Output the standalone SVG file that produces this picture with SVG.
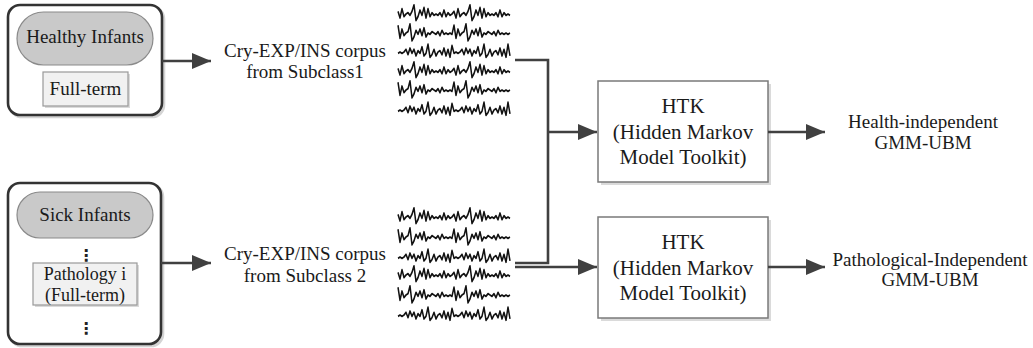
<svg xmlns="http://www.w3.org/2000/svg" width="1033" height="348" viewBox="0 0 1033 348">
<style>
.t{font-family:"Liberation Serif","Times New Roman",serif;fill:#1a1a1a;text-anchor:middle;font-size:19px}
.h{font-size:21px}
.p{font-size:18px}
.dots{font-family:"DejaVu Sans",sans-serif;fill:#222;text-anchor:middle;font-size:16px;font-weight:bold}
.outer{fill:#fff;stroke:#333;stroke-width:2.6}
.oshadow{fill:none;stroke:#d4d4d4;stroke-width:2.6}
.pill{fill:#c9c9c9;stroke:#8a8a8a;stroke-width:1.2}
.inner{fill:#f1f1f1;stroke:#999;stroke-width:1.2}
.box{fill:#fff;stroke:#7a7a7a;stroke-width:1.5}
.shadow{fill:#dadada}
.conn{fill:none;stroke:#404040;stroke-width:2.6}
.wave{fill:none;stroke:#111;stroke-width:1.5;stroke-linejoin:round}
</style>
<defs>
<marker id="arr" markerUnits="userSpaceOnUse" markerWidth="20" markerHeight="18" refX="19" refY="8" orient="auto">
<path d="M0,0 L19,8 L0,16 z" fill="#404040"/>
</marker>
<path id="wA" class="wave" d="M0,-2 L2,3 L4,-4 L6,2 L8,0 L10,-1 L12,1 L14,-2 L16,-7 L18,5 L20,2 L22,-3 L24,1 L26,-5 L28,3 L30,-4 L32,2 L34,-1 L36,1 L38,0 L40,1 L42,-1 L44,2 L46,-3 L48,2 L50,-1 L52,1 L54,0 L56,-2 L58,3 L60,-4 L62,2 L64,0 L66,-1 L68,1 L70,-2 L72,-7 L74,5 L76,2 L78,-3 L80,1 L82,-5 L84,3 L86,-4 L88,2 L90,-1 L92,1 L94,0 L96,1 L98,-1 L100,2 L102,-3 L104,2 L106,-1 L108,1 L110,0 L112,1"/>
<path id="wB" class="wave" d="M0,-6 L2,4 L4,-3 L6,2 L8,0 L10,-1 L12,-7 L14,6 L16,3 L18,-2 L20,1 L22,-3 L24,2 L26,-4 L28,3 L30,0 L32,1 L34,-1 L36,0 L38,1 L40,-1 L42,2 L44,-2 L46,1 L48,0 L50,1 L52,0 L54,1 L56,-6 L58,4 L60,-3 L62,2 L64,0 L66,-1 L68,-7 L70,6 L72,3 L74,-2 L76,1 L78,-3 L80,2 L82,-4 L84,3 L86,0 L88,1 L90,-1 L92,0 L94,1 L96,-1 L98,2 L100,-2 L102,1 L104,0 L106,1 L108,0 L110,1 L112,0"/>
<path id="wC" class="wave" d="M0,1 L2,0 L4,1 L6,0 L8,-2 L10,2 L12,-3 L14,1 L16,-2 L18,3 L20,-1 L22,1 L24,-4 L26,3 L28,1 L30,-6 L32,4 L34,2 L36,-2 L38,3 L40,0 L42,-1 L44,2 L46,-3 L48,3 L50,-2 L52,4 L54,-5 L56,1 L58,0 L60,1 L62,0 L64,-2 L66,2 L68,-3 L70,1 L72,-2 L74,3 L76,-1 L78,1 L80,-4 L82,3 L84,1 L86,-6 L88,4 L90,2 L92,-2 L94,3 L96,0 L98,-1 L100,2 L102,-3 L104,3 L106,-2 L108,4 L110,-6 L112,3"/>
</defs>
<rect width="1033" height="348" fill="#fff"/>

<g id="healthy">
<rect class="oshadow" x="10" y="7" width="154" height="110" rx="12"/>
<rect class="outer" x="8" y="5" width="154" height="110" rx="12"/>
<rect class="pill" x="17" y="12" width="136" height="53" rx="26.5"/>
<text class="t" x="85" y="43">Healthy Infants</text>
<rect class="shadow" x="45" y="74" width="85" height="34"/>
<rect class="inner" x="43" y="72" width="85" height="34"/>
<text class="t" x="85.5" y="95">Full-term</text>
</g>

<g id="sick">
<rect class="oshadow" x="10" y="185" width="153" height="161" rx="12"/>
<rect class="outer" x="8" y="183" width="153" height="161" rx="12"/>
<rect class="pill" x="17" y="192" width="136" height="46" rx="23"/>
<text class="t" x="85" y="221">Sick Infants</text>
<text class="dots" x="86" y="261">⋮</text>
<rect class="shadow" x="35" y="265" width="104" height="42"/>
<rect class="inner" x="33" y="263" width="104" height="42"/>
<text class="t p" x="85" y="280">Pathology i</text>
<text class="t p" x="85" y="301">(Full-term)</text>
<text class="dots" x="86" y="334">⋮</text>
</g>

<g id="corpus1">
<text class="t" x="305" y="57">Cry-EXP/INS corpus</text>
<text class="t" x="305" y="78">from Subclass1</text>
</g>
<g id="corpus2">
<text class="t" x="305" y="260">Cry-EXP/INS corpus</text>
<text class="t" x="305" y="282">from Subclass 2</text>
</g>

<g id="waves1">
<use href="#wA" transform="translate(398,14) scale(1,1.3)"/>
<use href="#wB" transform="translate(398,33) scale(1,1.3)"/>
<use href="#wC" transform="translate(398,52) scale(1,1.3)"/>
<use href="#wA" transform="translate(398,71) scale(1,1.3)"/>
<use href="#wB" transform="translate(398,90) scale(1,1.3)"/>
<use href="#wC" transform="translate(398,110) scale(1,1.3)"/>
</g>
<g id="waves2">
<use href="#wA" transform="translate(398,217) scale(1,1.3)"/>
<use href="#wB" transform="translate(398,237) scale(1,1.3)"/>
<use href="#wC" transform="translate(398,257) scale(1,1.3)"/>
<use href="#wA" transform="translate(398,275) scale(1,1.3)"/>
<use href="#wB" transform="translate(398,295) scale(1,1.3)"/>
<use href="#wC" transform="translate(398,315) scale(1,1.3)"/>
</g>

<g id="htk1">
<rect class="shadow" x="601" y="84" width="170" height="101"/>
<rect class="box" x="598" y="81" width="170" height="101"/>
<text class="t h" x="683" y="113">HTK</text>
<text class="t h" x="683" y="139">(Hidden Markov</text>
<text class="t h" x="683" y="164">Model Toolkit)</text>
</g>
<g id="htk2">
<rect class="shadow" x="601" y="220" width="170" height="101"/>
<rect class="box" x="598" y="217" width="170" height="101"/>
<text class="t h" x="683" y="249">HTK</text>
<text class="t h" x="683" y="275">(Hidden Markov</text>
<text class="t h" x="683" y="300">Model Toolkit)</text>
</g>

<g id="out1">
<text class="t" x="923" y="128">Health-independent</text>
<text class="t" x="923" y="149">GMM-UBM</text>
</g>
<g id="out2">
<text class="t" x="930" y="266">Pathological-Independent</text>
<text class="t" x="930" y="286">GMM-UBM</text>
</g>

<g id="connectors">
<path class="conn" d="M162,61 H211" marker-end="url(#arr)"/>
<path class="conn" d="M161,263 H211" marker-end="url(#arr)"/>
<path class="conn" d="M515,60 H548 V263 H515"/>
<path class="conn" d="M548,132 H597" marker-end="url(#arr)"/>
<path class="conn" d="M515,267 H597" marker-end="url(#arr)"/>
<path class="conn" d="M768,132 H825" marker-end="url(#arr)"/>
<path class="conn" d="M768,267 H825" marker-end="url(#arr)"/>
</g>
</svg>
